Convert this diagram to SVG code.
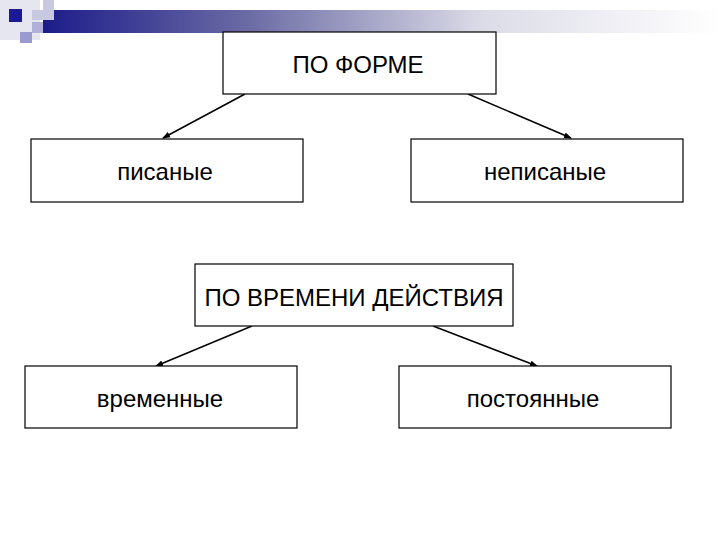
<svg xmlns="http://www.w3.org/2000/svg" width="720" height="540" viewBox="0 0 720 540">
  <defs>
    <linearGradient id="bar" x1="0" y1="0" x2="1" y2="0">
      <stop offset="0" stop-color="#1c1c8a"/>
      <stop offset="0.3" stop-color="#6a6aa4"/>
      <stop offset="0.65" stop-color="#dcdce8"/>
      <stop offset="1" stop-color="#ffffff"/>
    </linearGradient>
    <marker id="arr" markerWidth="8" markerHeight="8" refX="7" refY="4" orient="auto" markerUnits="userSpaceOnUse">
      <path d="M0,1 L8,4 L0,7 Z" fill="#000"/>
    </marker>
    <style>
      .box { fill: #fff; stroke: #000; stroke-width: 1.2; }
      .lbl { font-family: "Liberation Sans", Arial, sans-serif; font-size: 24px; fill: #000; text-anchor: middle; }
      .con { stroke: #000; stroke-width: 1.5; fill: none; marker-end: url(#arr); }
    </style>
  </defs>
  <rect width="720" height="540" fill="#fff"/>
  <g id="decor">
    <rect x="43" y="10" width="677" height="23" fill="url(#bar)"/>
    <rect x="0" y="0" width="40" height="40" fill="#e6e6f0"/>
    <rect x="43" y="0" width="11" height="20" fill="#c8c8e0"/>
    <rect x="32" y="10" width="22" height="10" fill="#c8c8e0"/>
    <rect x="9" y="9" width="13" height="13" fill="#1a1a96"/>
    <rect x="20" y="32" width="12" height="11" fill="#9a9ad0"/>
    <rect x="32" y="22" width="11" height="11" fill="#b0b0d8"/>
  </g>
  <g id="connectors">
    <line class="con" x1="245" y1="94" x2="163" y2="138"/>
    <line class="con" x1="468" y1="94" x2="571" y2="138"/>
    <line class="con" x1="252" y1="326" x2="156" y2="366"/>
    <line class="con" x1="433" y1="326" x2="537" y2="366"/>
  </g>
  <g id="n_forme">
    <rect class="box" x="223" y="32" width="273" height="62"/>
    <text class="lbl" x="358" y="73">ПО ФОРМЕ</text>
  </g>
  <g id="n_pisanye">
    <rect class="box" x="31" y="139" width="272" height="63"/>
    <text class="lbl" x="165" y="180">писаные</text>
  </g>
  <g id="n_nepisanye">
    <rect class="box" x="411" y="139" width="272" height="63"/>
    <text class="lbl" x="545" y="180">неписаные</text>
  </g>
  <g id="n_vremeni">
    <rect class="box" x="195" y="264" width="318" height="62"/>
    <text class="lbl" x="354" y="306">ПО ВРЕМЕНИ ДЕЙСТВИЯ</text>
  </g>
  <g id="n_vremennye">
    <rect class="box" x="25" y="366" width="272" height="62"/>
    <text class="lbl" x="160" y="407">временные</text>
  </g>
  <g id="n_postoyannye">
    <rect class="box" x="399" y="366" width="272" height="62"/>
    <text class="lbl" x="533" y="407">постоянные</text>
  </g>
</svg>
